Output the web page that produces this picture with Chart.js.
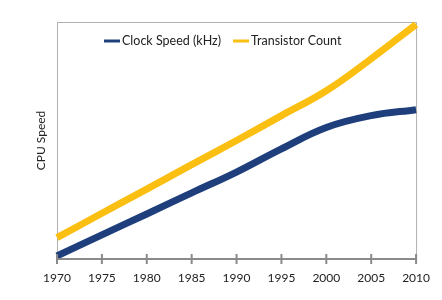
<!DOCTYPE html>
<html>
<head>
<meta charset="utf-8">
<script src="https://cdn.jsdelivr.net/npm/chart.js@4.4.1/dist/chart.umd.min.js"></script>
<style>
  html, body { margin: 0; padding: 0; background: #fff; }
  #wrap { width: 442px; height: 300px; }
</style>
</head>
<body>
<div id="wrap"><canvas id="cpuChart"></canvas></div>
<script>
const years = ["1970", "1975", "1980", "1985", "1990", "1995", "2000", "2005", "2010"];
const clockSpeed = [1.3, 10.2, 19, 27.9, 36.7, 46.5, 55.5, 60.5, 63];
const transistorCount = [9, 19.3, 29.5, 39.8, 50, 60.5, 71, 84.5, 99];

const ctx = document.getElementById("cpuChart");

// box around the plot, tick marks crossing the bottom axis, legend inside the plot
const plotFrame = {
  id: "plotFrame",
  beforeDatasetsDraw(chart) {
    const { ctx, chartArea } = chart;
    ctx.save();
    ctx.strokeStyle = "#b0b0b0";
    ctx.lineWidth = 1;
    ctx.beginPath();
    ctx.moveTo(chartArea.left, chartArea.top + 0.5);
    ctx.lineTo(chartArea.right + 0.5, chartArea.top + 0.5);
    ctx.lineTo(chartArea.right + 0.5, chartArea.bottom);
    ctx.stroke();
    ctx.restore();
  },
  afterDatasetsDraw(chart) {
    const { ctx, chartArea } = chart;
    const x = chart.scales.x;
    ctx.save();
    ctx.strokeStyle = "#8a8a8a";
    ctx.lineWidth = 2;
    ctx.beginPath();
    ctx.moveTo(chartArea.left, chartArea.bottom);
    ctx.lineTo(chartArea.right, chartArea.bottom);
    ctx.stroke();
    x.ticks.forEach((t, i) => {
      const px = x.getPixelForTick(i);
      ctx.beginPath();
      ctx.moveTo(px, chartArea.bottom - 5);
      ctx.lineTo(px, chartArea.bottom + 5);
      ctx.stroke();
    });

    // legend
    ctx.font = "12.5px Lato";
    ctx.textBaseline = "middle";
    const sw = 16, gap = 2, itemGap = 12;
    let lx = chartArea.left + 47;
    const ly = chartArea.top + 19;
    chart.data.datasets.forEach(ds => {
      ctx.strokeStyle = ds.borderColor;
      ctx.lineWidth = 3;
      ctx.beginPath();
      ctx.moveTo(lx, ly);
      ctx.lineTo(lx + sw, ly);
      ctx.stroke();
      ctx.fillStyle = "#222";
      ctx.fillText(ds.label, lx + sw + gap, ly);
      lx += sw + gap + ctx.measureText(ds.label).width + itemGap;
    });
    ctx.restore();
  },
};

new Chart(ctx, {
  type: "line",
  data: {
    labels: years,
    datasets: [
      {
        label: "Clock Speed (kHz)",
        data: clockSpeed,
        borderColor: "#1f3f7c",
        backgroundColor: "#1f3f7c",
        borderWidth: 7,
        pointRadius: 0,
        tension: 0.4,
      },
      {
        label: "Transistor Count",
        data: transistorCount,
        borderColor: "#fbbf12",
        backgroundColor: "#fbbf12",
        borderWidth: 7,
        pointRadius: 0,
        tension: 0.4,
      },
    ],
  },
  options: {
    responsive: true,
    maintainAspectRatio: false,
    animation: false,
    layout: { padding: { top: 22, right: 19, left: 0, bottom: 0 } },
    plugins: {
      legend: { display: false },
      tooltip: { enabled: false },
    },
    scales: {
      x: {
        offset: false,
        grid: { display: false, drawTicks: false },
        border: { display: false },
        ticks: {
          color: "#222",
          padding: 12,
          maxRotation: 0,
          autoSkip: false,
          font: { family: "Lato", size: 12 },
        },
        afterFit(scale) {
          scale.height = 41;
        },
      },
      y: {
        min: 0,
        max: 100,
        grid: { display: false, drawTicks: false },
        border: { display: true, color: "#b0b0b0", width: 1 },
        ticks: { display: false },
        title: {
          display: true,
          text: "CPU Speed",
          color: "#222",
          font: { family: "Lato", size: 12 },
          padding: { top: 34, bottom: 0 },
        },
        afterFit(scale) {
          scale.width = 57;
        },
      },
    },
  },
  plugins: [plotFrame],
});
</script>
</body>
</html>
